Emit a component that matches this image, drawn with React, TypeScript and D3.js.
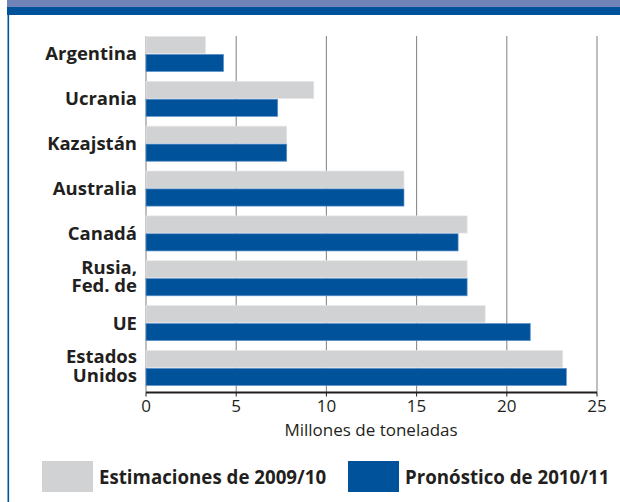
import React from "react";
import * as d3 from "d3";

const countries = ["Argentina", "Ucrania", "Kazajstán", "Australia", "Canadá", "Rusia, Fed. de", "UE", "Estados Unidos"];
const labelLines = [["Argentina"], ["Ucrania"], ["Kazajstán"], ["Australia"], ["Canadá"], ["Rusia,", "Fed. de"], ["UE"], ["Estados", "Unidos"]];
const est2009 = [3.3, 9.3, 7.8, 14.3, 17.8, 17.8, 18.8, 23.1];
const pron2010 = [4.3, 7.3, 7.8, 14.3, 17.3, 17.8, 21.3, 23.3];
const xTicks = [0, 5, 10, 15, 20, 25];
const seriesKeys = ["est", "pron"];
const seriesNames = ["Estimaciones de 2009/10", "Pronóstico de 2010/11"];
const seriesColors = ["#d1d2d4", "#00539b"];

const W = 620, H = 502;
const FONT = "'Open Sans', 'Noto Sans', sans-serif";

export default function App() {
  const x = d3.scaleLinear().domain([0, 25]).range([146, 597]);
  const y = d3.scaleBand().domain(countries).range([36.5, 385.5]).paddingInner(0.219).paddingOuter(0);
  const inner = d3.scaleBand().domain(seriesKeys).range([0, y.bandwidth()]).paddingInner(0.04);
  const axisY = 392.5;
  const values = [est2009, pron2010];
  const legendX = [42, 348];

  return (
    <svg width={W} height={H} style={{ position: "absolute", left: 0, top: 0 }} fontFamily={FONT}>
      <rect x={0} y={0} width={W} height={H} fill="#fff" />
      <rect x={7} y={0} width={W - 7} height={7} fill="#7184b8" />
      <rect x={7} y={7} width={W - 7} height={8} fill="#00539b" />
      <line x1={8.3} x2={8.3} y1={15} y2={H} stroke="#00539b" strokeWidth={1.6} />

      {xTicks.map((t) => (
        <line key={"g" + t} x1={x(t)} x2={x(t)} y1={36} y2={axisY} stroke="#8a8a8a" strokeWidth={1.1} />
      ))}

      {countries.map((c, i) => (
        <g key={c}>
          {seriesKeys.map((k, s) => (
            <rect
              key={k}
              x={x(0)}
              y={(y(c) as number) + (inner(k) as number)}
              width={x(values[s][i]) - x(0)}
              height={inner.bandwidth()}
              fill={seriesColors[s]}
              stroke={s === 1 ? "#5e92cc" : "#e4e5e6"}
              strokeWidth={0.7}
            />
          ))}
        </g>
      ))}

      {countries.map((c, i) => {
        const lines = labelLines[i];
        const cy = (y(c) as number) + y.bandwidth() / 2;
        const lh = 18.3;
        const start = lines.length === 1 ? cy + 6.4 : cy - 4.5;
        return (
          <text key={"l" + c} x={137} textAnchor="end" fontSize={18.5} fontWeight={700} fill="#231f20">
            {lines.map((ln, j) => (
              <tspan key={j} x={137} y={start + j * lh}>{ln}</tspan>
            ))}
          </text>
        );
      })}

      <line x1={x(0)} x2={x(25)} y1={axisY} y2={axisY} stroke="#231f20" strokeWidth={2} />
      {xTicks.map((t) => (
        <g key={"t" + t}>
          <line x1={x(t)} x2={x(t)} y1={axisY} y2={axisY + 4} stroke="#231f20" strokeWidth={1} />
          <text x={x(t)} y={412} textAnchor="middle" fontSize={17} fill="#231f20">{t}</text>
        </g>
      ))}
      <text x={371} y={436} textAnchor="middle" fontSize={17} fill="#231f20">Millones de toneladas</text>

      {seriesNames.map((n, s) => {
        const bx = legendX[s];
        return (
          <g key={n}>
            <rect x={bx} y={461} width={51} height={31} fill={seriesColors[s]} />
            <text x={bx + 57} y={484} fontSize={18.7} fontWeight={700} fill="#231f20">{n}</text>
          </g>
        );
      })}
    </svg>
  );
}
